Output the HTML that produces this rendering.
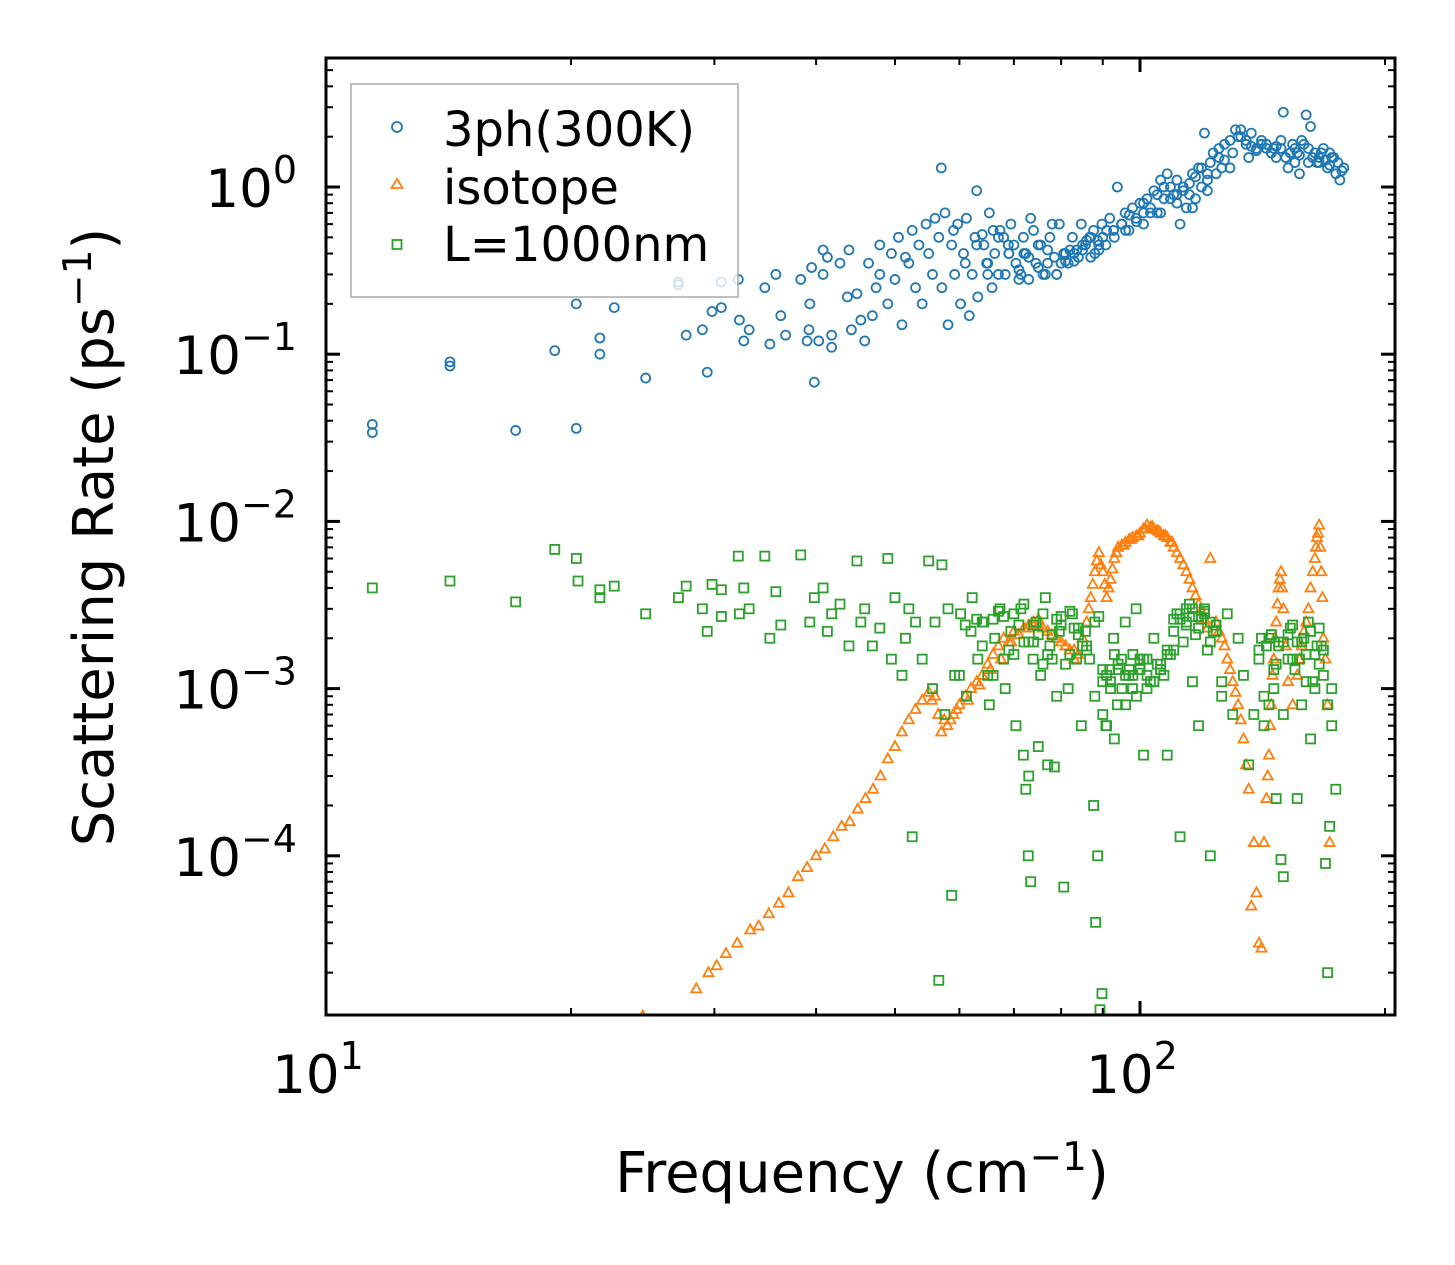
<!DOCTYPE html>
<html><head><meta charset="utf-8"><style>body{margin:0;background:#fff}svg{display:block;font-family:"DejaVu Sans","Liberation Sans",sans-serif}</style></head>
<body>
<svg id="chart" width="1455" height="1265" viewBox="0 0 1455 1265" xmlns="http://www.w3.org/2000/svg">
<rect width="1455" height="1265" fill="#fff"/>
<g id="marks"></g>
<g id="axes"></g>
<rect x="326" y="58" width="1069" height="957" fill="none" stroke="#000" stroke-width="3"/>
<text x="862" y="1192" font-size="56" text-anchor="middle">Frequency (cm<tspan font-size="39" dy="-22">−1</tspan><tspan dy="22">)</tspan></text>
<text transform="translate(113,537) rotate(-90)" font-size="56" text-anchor="middle">Scattering Rate (ps<tspan font-size="39" dy="-22">−1</tspan><tspan dy="22">)</tspan></text>
<g>
<rect x="351" y="84" width="387" height="213" fill="#fff" fill-opacity="0.8" stroke="#aaa" stroke-width="1.5"/>
<circle cx="397" cy="127" r="5" fill="none" stroke="#1f77b4" stroke-width="1.8"/>
<text x="443" y="146" font-size="48">3ph(300K)</text>
<polygon points="397,179 402.5,188 391.5,188" fill="none" stroke="#ff7f0e" stroke-width="1.8"/>
<text x="443" y="204" font-size="48">isotope</text>
<rect x="392.5" y="240" width="9" height="9" fill="none" stroke="#2ca02c" stroke-width="1.8"/>
<text x="443" y="261" font-size="48">L=1000nm</text>
</g>
</svg>
<script>
const blueF=[11.4,11.4,14.2,14.2,17.1,19.1,20.3,20.3,21.7,21.7,22.6,24.7,27.1,27.1,27.7,29,29.4,29.8,30.6,30.6,32.1,32.2,32.6,33.1,34.6,35.1,35.7,36.2,36.7,38.3,39,39.2,39.3,39.5,39.8,40.3,40.8,40.8,41.3,41.8,41.8,42.8,43.7,44.2,43.9,44.9,45.4,45.9,46.4,46.9,47.4,47.9,47.9,49,49.5,50,50.5,51,51.5,52,52.5,53,53.5,54,54.6,55,55.6,56,56.6,57.1,57.6,58.1,58.7,59.2,59.7,60.2,60.7,61.2,61.7,62.2,62.7,63.2,64.3,64.8,65.3,65.8,66.3,67.3,68.3,68.9,69.4,70.4,71.4,71.9,72.4,73.4,74.5,75.5,76.5,77.5,78.5,79.6,80.6,81.6,82.6,83.6,84.7,85.7,86.7,87.7,88.7,89.8,90.8,91.8,92.8,93.8,94.9,95.9,96.9,97.9,98.9,100,101,102,103,104,105,106,107,108,109,110,111,112,113,114,115,116,117,118,119,120,121,122,124,125,127,129,130,132,133,135,137,139,141,143,145,147,149,150,152,154,155,157,158,160,162,164,166,168,170,172,174,176,178,
63,65,67,69,71,73,75,77,79,81,83,85,87,89,64,66,68,70,72,74,76,78,80,82,84,86,88,90,96,101,106,111,116,121,126,136,141,146,151,156,161,166,171,
57,59,61,63,65,67,69,71,73,75,77,79,81,83,85,87,89,91,93,95,97,99,101,103,105,107,109,111,113,115,117,119,121,123,125,127,129,131,133,135,137,139,141,143,145,147,149,151,153,155,157,159,161,163,165,167,169,171,173,175,177];
const blueV=[0.038,0.034,0.09,0.085,0.035,0.105,0.2,0.036,0.125,0.1,0.19,0.072,0.27,0.26,0.13,0.14,0.078,0.18,0.19,0.27,0.28,0.16,0.12,0.14,0.25,0.115,0.3,0.17,0.13,0.28,0.12,0.14,0.2,0.33,0.068,0.12,0.42,0.3,0.38,0.11,0.13,0.35,0.22,0.14,0.42,0.23,0.16,0.12,0.35,0.17,0.25,0.45,0.3,0.2,0.4,0.28,0.5,0.15,0.38,0.35,0.55,0.25,0.45,0.2,0.6,0.4,0.3,0.65,0.5,0.25,0.7,0.15,0.45,0.3,0.6,0.2,0.4,0.65,0.17,0.3,0.5,0.22,0.45,0.35,0.7,0.25,0.4,0.55,0.3,0.45,0.6,0.35,0.3,0.5,0.4,0.65,0.35,0.45,0.3,0.5,0.38,0.6,0.4,0.35,0.5,0.42,0.6,0.45,0.5,0.55,0.48,0.6,0.45,0.65,0.55,1.0,0.6,0.7,0.55,0.75,0.65,0.8,0.7,0.85,0.75,0.95,0.7,1.1,0.85,1.2,1.0,0.9,0.8,0.6,1.0,0.75,0.9,1.2,0.85,1.3,1.0,2.1,1.1,1.4,1.2,1.5,1.8,1.3,1.6,2.0,2.2,1.9,2.1,1.7,1.9,1.8,1.6,1.5,1.7,2.8,1.3,1.8,1.7,1.2,1.9,2.7,2.3,1.6,1.4,1.7,1.3,1.5,1.2,1.1,1.3,0.95,
0.35,0.3,0.4,0.28,0.38,0.33,0.42,0.3,0.36,0.4,0.45,0.5,0.42,0.52,0.55,0.5,0.45,0.4,0.55,0.3,0.6,0.35,0.42,0.38,0.48,0.4,0.5,0.55,0.6,0.7,0.9,0.75,0.95,1.3,1.5,1.8,1.7,1.5,1.6,1.4,1.5,1.6,1.3,
0.55,0.35,0.45,0.3,0.5,0.4,0.32,0.28,0.45,0.35,0.3,0.4,0.36,0.42,0.38,0.45,0.55,0.5,0.6,0.68,0.62,0.8,0.7,0.9,1.0,0.85,1.1,0.95,1.05,1.15,1.3,1.2,1.6,1.7,1.45,1.9,2.2,2.0,1.8,1.75,1.65,1.8,1.7,1.6,1.75,1.9,1.5,1.6,1.4,1.55,1.8,1.7,1.5,1.4,1.6,1.45,1.35,1.5,1.4,1.25,1.1];
const isoF=[24.5,28.5,29.5,30.2,31,32,33.2,34,35,36,37,38,39,40,41,42,43,44,45,46,47,48,49,50,51,52,53,54,55,56,56.5,57,58,59,60,61,62,63,64,65,66,67,68,70,72,74,76,78,80,82,84,86,87,88,89,90,91,92,93,94,96,98,100,102,104,106,108,110,112,114,116,118,120,122,124,126,128,130,132,134,136,137,138,139,140,141,142,143,144,145,146,147,148,149,150,151,152,154,156,158,160,162,164,165,166,167,168,170,171,95,97,99,101,103,105,107,109,85,83,81,79,77,75,73,71,69,
55.5,57.5,58.5,59.5,61.5,63.5,65.5,67.5,69.5,71,73,75,79,81,83,86.5,87.5,88.5,89.5,90.5,91.5,92.5,93.5,95.5,97.5,99.5,101.5,103.5,105.5,107.5,109.5,111,113,115,117,119,121,125,127,129,131,133,135,143.5,144.5,145.5,146.5,147.5,148.5,149.5,157,159,161,163,164.5,165.5,166.5,167.5,169];
const isoV=[1.1e-5,1.6e-5,2e-5,2.2e-5,2.6e-5,3e-5,3.6e-5,3.8e-5,4.5e-5,5.2e-5,6e-5,7.5e-5,8.5e-5,1.0e-4,1.1e-4,1.3e-4,1.5e-4,1.6e-4,1.9e-4,2.2e-4,2.5e-4,3e-4,3.8e-4,4.5e-4,5.5e-4,6.5e-4,7.5e-4,8.5e-4,9.5e-4,9e-4,7e-4,5.5e-4,6e-4,7e-4,8e-4,9e-4,1.0e-3,1.1e-3,1.2e-3,1.4e-3,1.6e-3,1.8e-3,2e-3,2.2e-3,2.3e-3,2.5e-3,2.3e-3,2.1e-3,1.9e-3,1.7e-3,1.6e-3,2.5e-3,3.5e-3,5e-3,6.5e-3,5e-3,3.5e-3,4.5e-3,6e-3,7e-3,7.5e-3,8e-3,8.5e-3,9.5e-3,9e-3,8.5e-3,8e-3,7e-3,6e-3,5e-3,4e-3,3.2e-3,2.6e-3,6e-3,2.5e-3,2e-3,1.5e-3,1.1e-3,8e-4,5e-4,2.5e-4,5e-5,1.2e-4,6e-5,3e-5,2.8e-5,1.2e-4,2.2e-4,4e-4,8e-4,1.5e-3,2.5e-3,4e-3,5e-3,3e-3,1.8e-3,1.1e-3,8e-4,1.2e-3,1.8e-3,2.5e-3,4e-3,6e-3,8e-3,9.5e-3,5e-3,2e-3,8e-4,1.2e-4,7.2e-3,7.8e-3,8.2e-3,9e-3,9.2e-3,8.8e-3,8.2e-3,7.5e-3,2e-3,1.7e-3,1.8e-3,2e-3,2.2e-3,2.4e-3,2.3e-3,2.1e-3,1.9e-3,
8.5e-4,6.5e-4,6.5e-4,7.5e-4,8.5e-4,1.05e-3,1.3e-3,1.5e-3,1.9e-3,2.1e-3,2.4e-3,2.6e-3,2e-3,1.8e-3,1.5e-3,3e-3,4.2e-3,5.8e-3,5.5e-3,4.2e-3,4e-3,5.2e-3,6.5e-3,7.2e-3,7.8e-3,8.2e-3,9e-3,9.3e-3,8.7e-3,8.2e-3,7.5e-3,6.5e-3,5.5e-3,4.5e-3,3.6e-3,2.9e-3,2.3e-3,2.2e-3,1.8e-3,1.3e-3,9.5e-4,6.5e-4,3.5e-4,3e-4,6e-4,1.2e-3,2e-3,3.2e-3,4.5e-3,4e-3,1.5e-3,2.2e-3,3e-3,5e-3,7e-3,8.5e-3,7e-3,3.5e-3,1.5e-3];
const grnF=[11.4,14.2,17.1,19.1,20.3,20.4,21.7,21.7,22.6,24.7,27.1,27.7,29,29.4,29.8,30.6,30.6,32.1,32.2,32.6,33.1,34.6,35.1,35.7,36.2,38.3,39.3,39.8,40.8,41.3,41.8,42.8,43.9,44.9,45.4,45.9,46.9,47.9,49,49.5,50,51,51.5,52,52.5,53,54,55,55.6,56,56.6,57.1,57.6,58.1,58.7,59.2,60.2,61.2,62.2,63.2,64.3,65.3,66.3,67.3,68.3,69.4,70.4,71.4,71.9,72.4,72.9,73.4,73.9,74.5,75.5,76.5,77.5,78.5,79.6,80.6,81.6,82.6,83.6,84.7,85.7,86.7,87.7,88.2,88.7,89.3,89.8,90.8,91.8,92.8,93.8,94.9,95.9,96.9,97.9,98.9,100,101,102,104,106,108,110,112,114,116,118,120,122,124,126,128,130,132,134,136,138,140,141,142,143,144,145,146,147,148,149,150,152,154,155,156,158,160,161,162,164,166,168,169,170,171,172,
60,62,64,66,68,70,72,74,76,78,80,82,84,86,88,90,92,94,96,98,100,102,104,106,108,110,112,114,116,118,120,122,124,61,63,65,67,69,71,73,75,77,79,81,83,85,89,91,93,95,97,99,101,103,105,107,109,111,113,115,117,119,121,123,145,147,150,153,157,159,163,165,167,
64,66,68,70,72,74,76,78,80,82,84,86,88,90,92,94,96,98,100,102,104,106,108,110,112,114,116,118,120,122,124,126,140,142,144,146,148,150,152,154,156,158,160,162,164,166,168,170,172,174,73,75,77,79,90,91,93,95];
const grnV=[4e-3,4.4e-3,3.3e-3,6.8e-3,6e-3,4.4e-3,3.9e-3,3.5e-3,4.1e-3,2.8e-3,3.5e-3,4.1e-3,3e-3,2.2e-3,4.2e-3,2.7e-3,3.9e-3,6.2e-3,2.8e-3,4e-3,3e-3,6.2e-3,2e-3,3.8e-3,2.4e-3,6.3e-3,2.5e-3,3.5e-3,4e-3,2.2e-3,2.8e-3,3.2e-3,1.8e-3,5.8e-3,2.5e-3,3e-3,1.8e-3,2.3e-3,6e-3,1.5e-3,3.5e-3,1.2e-3,2e-3,3e-3,1.3e-4,2.5e-3,1.5e-3,5.8e-3,1e-3,2.5e-3,1.8e-5,5.5e-3,7e-4,3e-3,5.8e-5,1.2e-3,2.8e-3,9e-4,3.5e-3,1.5e-3,2.5e-3,8e-4,2e-3,3e-3,1e-3,2.2e-3,6e-4,3e-3,4e-4,2.5e-4,1e-4,7e-5,1.5e-3,2.5e-3,1.2e-3,3.5e-3,1.8e-3,3.4e-4,2.2e-3,6.5e-5,1e-3,2.8e-3,1.5e-3,6e-4,2.2e-3,1.5e-3,2e-4,4e-5,1e-4,1.2e-5,1.5e-5,6e-4,1.3e-3,2e-3,8e-4,1.5e-3,2.5e-3,1.2e-3,1e-3,3e-3,1.5e-3,4e-4,1.2e-3,2e-3,1.3e-3,4e-4,1.7e-3,1.3e-4,2.5e-3,1.1e-3,6e-4,3e-3,1e-4,2.2e-3,9e-4,2.8e-3,7e-4,2e-3,1.2e-3,3.5e-4,7e-4,1.5e-3,2e-3,6e-4,1.8e-3,8e-4,2.1e-3,1e-3,2.2e-4,1.9e-3,9.5e-5,7.5e-5,1.5e-3,2.4e-3,1.3e-3,2.2e-4,1.9e-3,1.1e-3,2.5e-3,5e-4,1.6e-3,2.3e-3,1.2e-3,9e-5,2e-5,1.5e-4,6e-4,1.2e-3,
2.2e-3,1.8e-3,2.6e-3,1.5e-3,2.8e-3,1.9e-3,2.4e-3,1.4e-3,2.1e-3,2.7e-3,1.6e-3,2.3e-3,1.8e-3,2.5e-3,1.3e-3,1.1e-3,1.4e-3,1.2e-3,1.6e-3,1.3e-3,1.5e-3,1.1e-3,1.4e-3,1.7e-3,2.6e-3,2.8e-3,2.4e-3,3e-3,2.7e-3,2.9e-3,2.5e-3,2.2e-3,2.4e-3,2.6e-3,1.2e-3,2.9e-3,1.7e-3,2.4e-3,1.9e-3,2.1e-3,1.6e-3,2.6e-3,1.4e-3,2.3e-3,1.8e-3,2.7e-3,1.2e-3,1.6e-3,1e-3,1.3e-3,9e-4,1.5e-3,1.1e-3,1.4e-3,1.2e-3,1.6e-3,2.8e-3,1.9e-3,3.2e-3,2.1e-3,2.6e-3,1.7e-3,2.2e-3,2.1e-3,1.4e-3,1.9e-3,2.3e-3,1.5e-3,2e-3,1.1e-3,1.8e-3,
1.8e-3,2.5e-3,1.2e-3,2.7e-3,1.6e-3,3.2e-3,1.9e-3,2.8e-3,1.5e-3,2.4e-3,2.9e-3,2.1e-3,1.7e-3,9e-4,1.1e-3,1e-3,1.3e-3,8e-4,1.2e-3,1.4e-3,1e-3,1.1e-3,1.3e-3,1.6e-3,2.2e-3,2.6e-3,3e-3,2.7e-3,2.3e-3,2.8e-3,1.9e-3,2.4e-3,1.1e-3,1.7e-3,9e-4,2e-3,1.3e-3,1.8e-3,7e-4,2.1e-3,1.5e-3,1.9e-3,8e-4,1.6e-3,2.2e-3,1e-3,1.4e-3,1.7e-3,8e-4,1e-3,2.5e-4,3e-4,4.5e-4,3.5e-4,9e-4,7e-4,6e-4,5e-4];
const xTickVals=[10,100];
const xTickLabels=["1","2"];
const yTickExps=[0,-1,-2,-3,-4];

const NS="http://www.w3.org/2000/svg";
const L=326,R=1395,T=58,B=1015;
const X=f=>L+814*Math.log10(f/10);
const Y=v=>187-167.2*Math.log10(v);
const marks=document.getElementById('marks'),axes=document.getElementById('axes');
function mk(tag,attrs,parent){const e=document.createElementNS(NS,tag);for(const k in attrs)e.setAttribute(k,attrs[k]);parent.appendChild(e);return e;}
const clip=mk('clipPath',{id:'pc'},marks);mk('rect',{x:L,y:T,width:R-L,height:B-T},clip);
const gB=mk('g',{'clip-path':'url(#pc)'},marks);


blueF.forEach((f,i)=>{const c=mk('circle',{cx:X(f),cy:Y(blueV[i]),r:4.5,fill:'none',stroke:'#1f77b4','stroke-width':1.8},gB);

});
const gO=mk('g',{'clip-path':'url(#pc)'},marks);


isoF.forEach((f,i)=>{const x=X(f),y=Y(isoV[i]);const p=mk('polygon',{points:`${x},${y-5.5} ${x+5},${y+3.5} ${x-5},${y+3.5}`,fill:'none',stroke:'#ff7f0e','stroke-width':1.8},gO);

});
const gG=mk('g',{'clip-path':'url(#pc)'},marks);


grnF.forEach((f,i)=>{const r=mk('rect',{x:X(f)-4.5,y:Y(grnV[i])-4.5,width:9,height:9,fill:'none',stroke:'#2ca02c','stroke-width':1.8},gG);

});
for(let d=10;d<=100;d*=10){for(let m=1;m<10;m++){const f=d*m;const x=X(f);if(x<L-1||x>R+1)continue;const len=m===1?14:7;
mk('line',{x1:x,y1:B,x2:x,y2:B-len,stroke:'#000','stroke-width':m===1?3:2},axes);
mk('line',{x1:x,y1:T,x2:x,y2:T+len,stroke:'#000','stroke-width':m===1?3:2},axes);}}
xTickVals.forEach((v,i)=>{const t=mk('text',{x:X(v)-8,y:1093,'font-size':53,'text-anchor':'middle'},axes);t.textContent='10';


const s=mk('tspan',{'font-size':38,dy:-24},t);s.textContent=xTickLabels[i];});
for(let e=-5;e<=0;e++){for(let m=1;m<10;m++){const v=m*Math.pow(10,e);const y=Y(v);if(y<T-1||y>B+1)continue;const len=m===1?14:7;
mk('line',{x1:L,y1:y,x2:L+len,y2:y,stroke:'#000','stroke-width':m===1?3:2},axes);
mk('line',{x1:R,y1:y,x2:R-len,y2:y,stroke:'#000','stroke-width':m===1?3:2},axes);}}
yTickExps.forEach(e=>{const y=Y(Math.pow(10,e));const t=mk('text',{x:297,y:y+20,'font-size':53,'text-anchor':'end'},axes);t.textContent='10';


const s=mk('tspan',{'font-size':38,dy:-24},t);s.textContent=e===0?'0':'−'+(-e);});
</script>
</body></html>
